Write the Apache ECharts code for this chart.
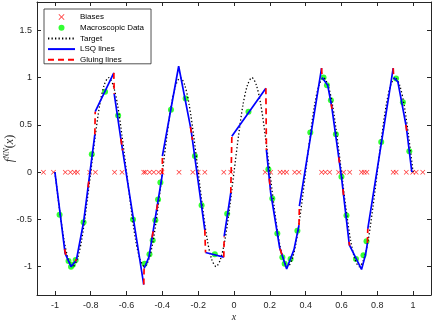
<!DOCTYPE html>
<html>
<head>
<meta charset="utf-8">
<script src="https://cdn.jsdelivr.net/npm/echarts@6/dist/echarts.min.js"></script>
<style>
  html, body { margin: 0; padding: 0; background: #fff; }
  #chart { width: 436px; height: 323px; }
</style>
</head>
<body>
<div id="chart"></div>
<script>
// biases (all sit on y = 0)
var biasX = [-1.064, -1.008, -0.942, -0.913, -0.89, -0.874, -0.806, -0.774, -0.667, -0.625,
    -0.504, -0.495, -0.471, -0.448, -0.421, -0.402, -0.307, -0.23, -0.2, -0.163, -0.057, -0.018,
    0.174, 0.205, 0.257, 0.276, 0.294, 0.339, 0.363, 0.489, 0.51, 0.534, 0.584, 0.612, 0.646,
    0.712, 0.727, 0.742, 0.889, 0.905, 0.962, 0.998, 1.017, 1.054];

// macroscopic data
var macroX = [-0.974, -0.924, -0.91, -0.9, -0.884, -0.84, -0.794, -0.72, -0.647, -0.564, -0.499,
    -0.472, -0.454, -0.439, -0.424, -0.411, -0.352, -0.27, -0.218, -0.181, -0.107, -0.038, 0.081,
    0.192, 0.214, 0.242, 0.27, 0.283, 0.316, 0.354, 0.426, 0.5, 0.519, 0.541, 0.569, 0.6, 0.628,
    0.681, 0.723, 0.74, 0.822, 0.905, 0.943, 0.979];
var macroY = [-0.45, -0.94, -1.0, -0.98, -0.93, -0.53, 0.19, 0.85, 0.6, -0.5, -0.97,
    -0.87, -0.72, -0.51, -0.29, -0.11, 0.66, 0.78, 0.17, -0.35, -0.87, -0.44, 0.64,
    0.03, -0.28, -0.65, -0.9, -0.97, -0.92, -0.62, 0.42, 1.0, 0.92, 0.76, 0.4, -0.05, -0.46,
    -0.92, -0.88, -0.73, 0.32, 0.99, 0.74, 0.22];

// target curve
var targetX = [-1, -0.975, -0.95, -0.925, -0.9, -0.875, -0.85, -0.825, -0.8, -0.775, -0.75, -0.725,
    -0.7, -0.675, -0.65, -0.625, -0.6, -0.575, -0.55, -0.525, -0.5, -0.475, -0.45, -0.425,
    -0.4, -0.375, -0.35, -0.325, -0.3, -0.275, -0.25, -0.225, -0.2, -0.175, -0.15, -0.125,
    -0.1, -0.075, -0.05, -0.025, 0, 0.025, 0.05, 0.075, 0.1, 0.125, 0.15, 0.175,
    0.2, 0.225, 0.25, 0.275, 0.3, 0.325, 0.35, 0.375, 0.4, 0.425, 0.45, 0.475,
    0.5, 0.525, 0.55, 0.575, 0.6, 0.625, 0.65, 0.675, 0.7, 0.725, 0.75, 0.775,
    0.8, 0.825, 0.85, 0.875, 0.9, 0.925, 0.95, 0.975, 1];
var targetY = [0, -0.38, -0.71, -0.92, -1, -0.92, -0.71, -0.38, 0, 0.38, 0.71, 0.92,
    1, 0.92, 0.71, 0.38, 0, -0.38, -0.71, -0.92, -1, -0.92, -0.71, -0.38,
    0, 0.38, 0.71, 0.92, 1, 0.92, 0.71, 0.38, 0, -0.38, -0.71, -0.92, -1, -0.92, -0.71, -0.38,
    0, 0.38, 0.71, 0.92, 1, 0.92, 0.71, 0.38, 0, -0.38, -0.71, -0.92, -1, -0.92, -0.71, -0.38,
    0, 0.38, 0.71, 0.92, 1, 0.92, 0.71, 0.38, 0, -0.38, -0.71, -0.92, -1, -0.92, -0.71, -0.38,
    0, 0.38, 0.71, 0.92, 1, 0.92, 0.71, 0.38, 0];

// LSQ lines (null = break between pieces)
var lsqX = [-1.0, -0.943, -0.91, -0.88, -0.84, -0.777, null,
    -0.775, -0.671, null,
    -0.669, -0.627, -0.504, null,
    -0.502, -0.475, -0.40, null,
    -0.40, -0.309, -0.24, -0.163, null,
    -0.159, -0.057, null,
    -0.055, -0.018, null,
    -0.012, 0.178, null,
    0.181, 0.205, 0.255, 0.294, 0.335, 0.363, null,
    0.365, 0.489, null,
    0.492, 0.523, 0.545, 0.60, 0.644, 0.712, 0.735, 0.745, null,
    0.747, 0.889, null,
    0.892, 0.915, 0.962, 0.993];
var lsqY = [0, -0.86, -1.0, -0.93, -0.53, 0.40, null,
    0.64, 1.05, null,
    0.83, 0.29, -1.19, null,
    -1.02, -0.90, -0.02, null,
    0.17, 1.12, 0.45, -0.61, null,
    -0.85, -0.90, null,
    -0.68, -0.22, null,
    0.38, 0.887, null,
    0.235, -0.22, -0.80, -1.024, -0.82, -0.56, null,
    -0.36, 1.1, null,
    1.0, 0.92, 0.70, -0.05, -0.77, -1.03, -0.87, -0.75, null,
    -0.60, 1.1, null,
    1.0, 0.955, 0.48, 0];

// gluing lines
var glueX = [-0.777, -0.775, null, -0.671, -0.669, null, -0.504, -0.502, null, -0.40, -0.40, null,
    -0.163, -0.159, null, -0.057, -0.055, null, -0.018, -0.012, null, 0.178, 0.181, null,
    0.363, 0.365, null, 0.489, 0.492, null, 0.745, 0.747, null, 0.889, 0.892, null,
    -0.946, -0.939, null, -0.886, -0.879, null, -0.815, -0.808, null, -0.632, -0.622, null,
    -0.457, -0.451, null, -0.432, -0.426, null, -0.243, -0.232, null, 0.197, 0.203, null,
    0.257, 0.268, null, 0.543, 0.547, null, 0.585, 0.589, null, 0.608, 0.612, null,
    0.642, 0.646, null, 0.96, 0.965];
var glueY = [0.40, 0.64, null, 1.05, 0.83, null, -1.19, -1.02, null, -0.02, 0.17, null,
    -0.61, -0.85, null, -0.90, -0.68, null, -0.22, 0.38, null, 0.887, 0.235, null,
    -0.56, -0.36, null, 1.1, 1.0, null, -0.75, -0.60, null, 1.1, 1.0, null,
    -0.815, -0.877, null, -0.944, -0.92, null, -0.161, -0.058, null, 0.354, 0.23, null,
    -0.69, -0.62, null, -0.40, -0.33, null, 0.48, 0.34, null, -0.068, -0.182, null,
    -0.81, -0.875, null, 0.72, 0.67, null, 0.156, 0.10, null, -0.18, -0.247, null,
    -0.737, -0.778, null, 0.50, 0.434];

var xTicks = [-1, -0.8, -0.6, -0.4, -0.2, 0, 0.2, 0.4, 0.6, 0.8, 1];
var yTicks = [-1, -0.5, 0, 0.5, 1, 1.5];

function pairs(xs, ys) {
    return xs.map(function (x, i) {
        return x === null ? ['-', '-'] : [x, ys[i]];
    });
}

var axisColor = '#262626';
var font = 'Liberation Sans';
var crossPath = 'path://M0,1L1,0L5,4L9,0L10,1L6,5L10,9L9,10L5,6L1,10L0,9L4,5Z';
var noMark = { color: 'rgba(0,0,0,0)', borderWidth: 0 };

var myChart = echarts.init(document.getElementById('chart'));

var xBase = {
    type: 'value', min: -1.1, max: 1.1,
    splitLine: { show: false },
    axisLine: { onZero: false, lineStyle: { color: axisColor, width: 1 } },
    axisTick: { inside: true, length: 4, customValues: xTicks, lineStyle: { color: axisColor } }
};
var yBase = {
    type: 'value', min: -1.3, max: 1.8,
    splitLine: { show: false },
    axisLine: { onZero: false, lineStyle: { color: axisColor, width: 1 } },
    axisTick: { inside: true, length: 4, customValues: yTicks, lineStyle: { color: axisColor } }
};

var option = {
    animation: false,
    grid: { left: 37, right: 5, top: 2, bottom: 28, outerBoundsMode: 'none', containLabel: false },
    legend: {
        orient: 'vertical',
        left: 44, top: 9,
        itemWidth: 27, itemHeight: 6, itemGap: 2.7,
        padding: [4, 7, 0, 3],
        borderColor: axisColor, borderWidth: 0.8,
        backgroundColor: '#fff',
        textStyle: { fontSize: 8, fontFamily: font, color: '#000' },
        data: [
            'Biases',
            'Macroscopic Data',
            { name: 'Target', itemStyle: noMark },
            { name: 'LSQ lines', itemStyle: noMark },
            { name: 'Gluing lines', itemStyle: noMark }
        ]
    },
    xAxis: [
        Object.assign({}, xBase, {
            position: 'bottom',
            name: 'x', nameLocation: 'middle', nameGap: 17, nameMoveOverlap: false,
            nameTextStyle: { fontFamily: 'Liberation Serif', fontStyle: 'italic', fontSize: 10, color: axisColor },
            axisLabel: { customValues: xTicks, fontSize: 9, fontFamily: font, color: axisColor, margin: 6 }
        }),
        Object.assign({}, xBase, { position: 'top', axisLabel: { show: false } })
    ],
    yAxis: [
        Object.assign({}, yBase, {
            position: 'left',
            name: '{i|f}{s|NN}{p|(}{i|x}{p|)}', nameLocation: 'middle', nameGap: 20, nameRotate: 90,
            nameMoveOverlap: false,
            nameTextStyle: {
                rich: {
                    i: { fontFamily: 'Liberation Serif', fontStyle: 'italic', fontSize: 12, color: axisColor, lineHeight: 14 },
                    p: { fontFamily: 'Liberation Serif', fontSize: 12, color: axisColor, lineHeight: 14 },
                    s: { fontFamily: 'Liberation Serif', fontStyle: 'italic', fontSize: 8, color: axisColor, verticalAlign: 'top', lineHeight: 14 }
                }
            },
            axisLabel: { customValues: yTicks, fontSize: 9, fontFamily: font, color: axisColor, margin: 5 }
        }),
        Object.assign({}, yBase, { position: 'right', axisLabel: { show: false } })
    ],
    series: [
        {
            name: 'Biases', type: 'scatter',
            symbol: crossPath, symbolSize: 5,
            itemStyle: { color: '#ff0000' },
            data: biasX.map(function (x) { return [x, 0]; })
        },
        {
            name: 'Macroscopic Data', type: 'scatter',
            symbol: 'circle', symbolSize: 6,
            itemStyle: { color: '#00ff00' },
            data: pairs(macroX, macroY)
        },
        {
            name: 'Target', type: 'line', symbol: 'none', smooth: 0.3,
            lineStyle: { color: '#000', width: 1.3, type: [1.3, 2.2] },
            itemStyle: { color: '#000' },
            data: pairs(targetX, targetY)
        },
        {
            name: 'LSQ lines', type: 'line', symbol: 'none', connectNulls: false,
            lineStyle: { color: '#0000ff', width: 1.7 },
            itemStyle: { color: '#0000ff' },
            data: pairs(lsqX, lsqY)
        },
        {
            name: 'Gluing lines', type: 'line', symbol: 'none', connectNulls: false,
            lineStyle: { color: '#ff0000', width: 1.7, type: [6, 4] },
            itemStyle: { color: '#ff0000' },
            data: pairs(glueX, glueY)
        }
    ]
};
myChart.setOption(option);
</script>
</body>
</html>
